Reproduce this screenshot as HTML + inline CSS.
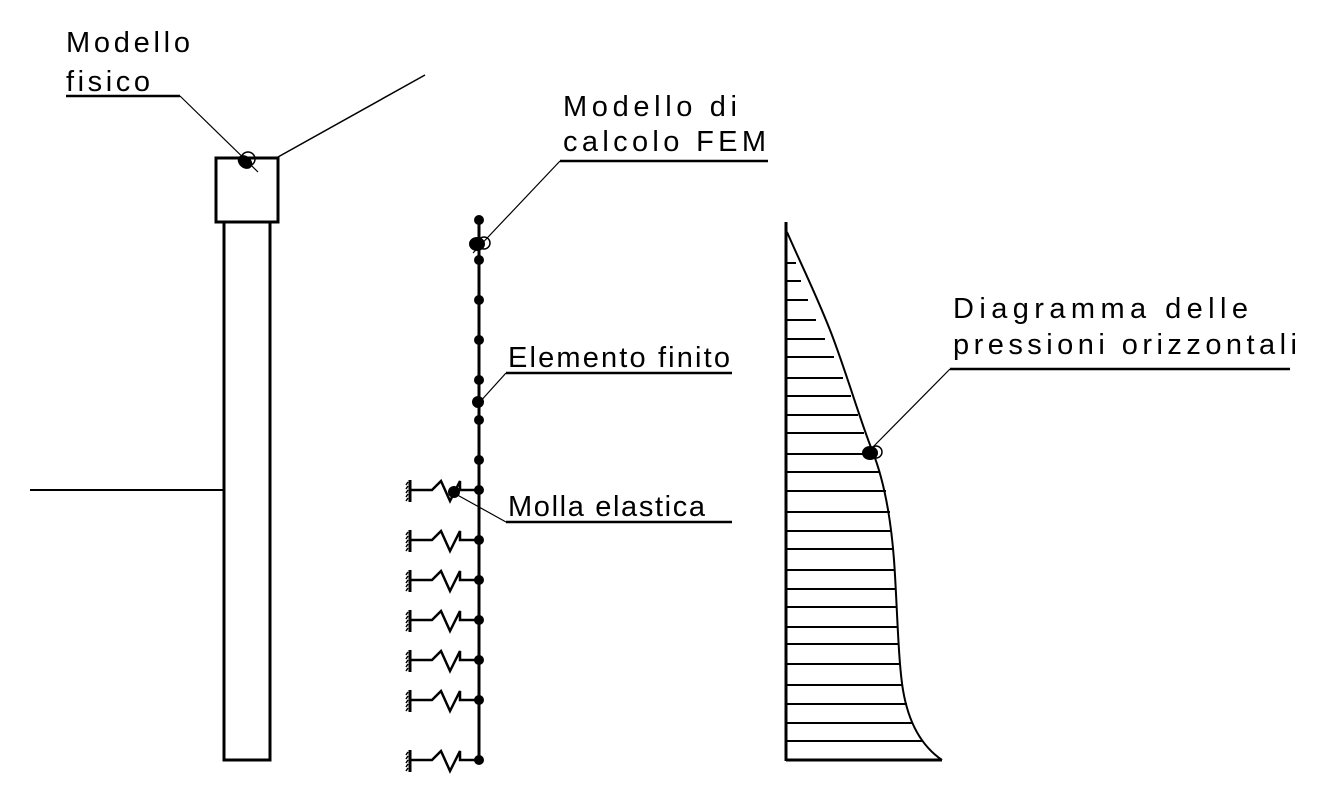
<!DOCTYPE html>
<html><head><meta charset="utf-8"><style>
html,body{margin:0;padding:0;background:#fff;}
svg{display:block;}
text{font-family:"Liberation Sans",sans-serif;font-size:29px;fill:#000;}
</style></head><body>
<svg width="1324" height="788" viewBox="0 0 1324 788" xmlns="http://www.w3.org/2000/svg">
<defs>
<g id="spring">
<line x1="410" y1="-10" x2="410" y2="12" stroke="#000" stroke-width="3"/>
<path d="M408,-8 l-2,3 M408,-4 l-2,3 M408,0 l-2,3 M408,4 l-2,3 M408,8 l-2,3" stroke="#000" stroke-width="1.5"/>
<polyline points="410,0 432,0 441,-9 450,11 460,-9 460,0 479,0" fill="none" stroke="#000" stroke-width="2.5"/>
</g>
</defs>
<g stroke="#000" fill="none">
<rect x="216" y="158" width="62" height="64" stroke-width="3"/>
<rect x="224" y="222" width="46" height="538" stroke-width="3"/>
<line x1="30" y1="490" x2="224" y2="490" stroke-width="2"/>
<line x1="278" y1="157" x2="425" y2="75" stroke-width="1.5"/>
<line x1="66" y1="96" x2="180" y2="96" stroke-width="2.5"/>
<line x1="180" y1="96" x2="258" y2="172" stroke-width="1.2"/>
<circle cx="248" cy="159" r="7" stroke-width="1.5"/>
<line x1="479" y1="220" x2="479" y2="760" stroke-width="3"/>
<line x1="560" y1="161" x2="768" y2="161" stroke-width="2.5"/>
<line x1="560" y1="161" x2="473" y2="253" stroke-width="1.2"/>
<circle cx="484" cy="243" r="6" stroke-width="1.5"/>
<line x1="506" y1="373" x2="732" y2="373" stroke-width="2.5"/>
<line x1="506" y1="373" x2="478" y2="404" stroke-width="1.2"/>
<line x1="506" y1="522" x2="732" y2="522" stroke-width="2.5"/>
<line x1="506" y1="522" x2="452" y2="492" stroke-width="1.2"/>
<line x1="786" y1="222" x2="786" y2="761" stroke-width="3"/>
<line x1="786" y1="760" x2="942" y2="760" stroke-width="3"/>
<path d="M787,232 C800,262 815,292 830,330 C845,368 860,420 872,450 C884,480 891,520 894,560 C897,600 898,660 903,690 C908,720 920,745 942,760" stroke-width="2"/>
<line x1="950" y1="369" x2="1290" y2="369" stroke-width="2.5"/>
<line x1="950" y1="369" x2="872" y2="448" stroke-width="1.2"/>
<circle cx="876" cy="452" r="6" stroke-width="1.5"/>
</g>
<g stroke="#000" stroke-width="2">
<line x1="786" y1="263" x2="796" y2="263"/>
<line x1="786" y1="281" x2="801" y2="281"/>
<line x1="786" y1="300" x2="808" y2="300"/>
<line x1="786" y1="320" x2="816" y2="320"/>
<line x1="786" y1="339" x2="825" y2="339"/>
<line x1="786" y1="357" x2="834" y2="357"/>
<line x1="786" y1="378" x2="843" y2="378"/>
<line x1="786" y1="396" x2="851" y2="396"/>
<line x1="786" y1="415" x2="858" y2="415"/>
<line x1="786" y1="433" x2="864" y2="433"/>
<line x1="786" y1="454" x2="870" y2="454"/>
<line x1="786" y1="472" x2="880" y2="472"/>
<line x1="786" y1="491" x2="886" y2="491"/>
<line x1="786" y1="512" x2="890" y2="512"/>
<line x1="786" y1="531" x2="892" y2="531"/>
<line x1="786" y1="549" x2="893" y2="549"/>
<line x1="786" y1="570" x2="894" y2="570"/>
<line x1="786" y1="589" x2="895" y2="589"/>
<line x1="786" y1="607" x2="896" y2="607"/>
<line x1="786" y1="627" x2="897" y2="627"/>
<line x1="786" y1="644" x2="898" y2="644"/>
<line x1="786" y1="664" x2="900" y2="664"/>
<line x1="786" y1="685" x2="903" y2="685"/>
<line x1="786" y1="704" x2="907" y2="704"/>
<line x1="786" y1="723" x2="912" y2="723"/>
<line x1="786" y1="741" x2="922" y2="741"/>
</g>
<g fill="#000">
<ellipse cx="245" cy="162" rx="8" ry="6" transform="rotate(40 245 162)"/>
<circle cx="479" cy="220" r="5"/><circle cx="479" cy="260" r="5"/><circle cx="479" cy="300" r="5"/>
<circle cx="479" cy="340" r="5"/><circle cx="479" cy="380" r="5"/><circle cx="479" cy="420" r="5"/>
<circle cx="479" cy="460" r="5"/><circle cx="479" cy="490" r="5"/><circle cx="479" cy="540" r="5"/>
<circle cx="479" cy="580" r="5"/><circle cx="479" cy="620" r="5"/><circle cx="479" cy="660" r="5"/>
<circle cx="479" cy="700" r="5"/><circle cx="479" cy="760" r="5"/>
<ellipse cx="477" cy="244" rx="8" ry="7"/>
<circle cx="478" cy="402" r="6"/>
<circle cx="454" cy="492" r="6"/>
<ellipse cx="870" cy="453" rx="8" ry="7"/>
</g>
<use href="#spring" transform="translate(0,490)"/>
<use href="#spring" transform="translate(0,540)"/>
<use href="#spring" transform="translate(0,580)"/>
<use href="#spring" transform="translate(0,620)"/>
<use href="#spring" transform="translate(0,660)"/>
<use href="#spring" transform="translate(0,700)"/>
<use href="#spring" transform="translate(0,760)"/>
<text x="66" y="52" textLength="124" lengthAdjust="spacing">Modello</text>
<text x="66" y="91" textLength="84" lengthAdjust="spacing">fisico</text>
<text x="563" y="116" textLength="174" lengthAdjust="spacing">Modello di</text>
<text x="563" y="151" textLength="203" lengthAdjust="spacing">calcolo FEM</text>
<text x="508" y="367" textLength="222" lengthAdjust="spacing">Elemento finito</text>
<text x="508" y="516" textLength="197" lengthAdjust="spacing">Molla elastica</text>
<text x="953" y="318" textLength="295" lengthAdjust="spacing">Diagramma delle</text>
<text x="953" y="354" textLength="344" lengthAdjust="spacing">pressioni orizzontali</text>
</svg>
</body></html>
